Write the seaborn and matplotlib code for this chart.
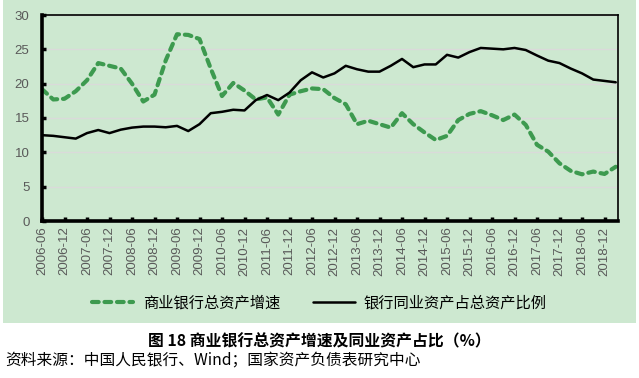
import numpy as np
import pandas as pd
import seaborn as sns
import matplotlib.pyplot as plt
from matplotlib.patches import Rectangle


sns.set_theme(style="white")
plt.rcParams['font.family'] = ['Noto Sans CJK SC', 'DejaVu Sans']


# quarterly, 2006-06 .. 2019-03
quarters = [f"{y}-{m}" for y in range(2006, 2020) for m in ("03", "06", "09", "12")][1:53]

growth = [19.2, 17.7, 17.8, 18.9, 20.5, 23.0, 22.6, 22.2, 20.0, 17.4,
          18.4, 23.4, 27.2, 27.1, 26.5, 22.2, 18.2, 20.1, 19.0, 17.7,
          18.0, 15.5, 18.4, 18.9, 19.3, 19.2, 17.9, 17.0, 14.1, 14.6,
          14.1, 13.6, 15.7, 14.1, 12.9, 11.8, 12.4, 14.7, 15.6, 16.0,
          15.4, 14.7, 15.5, 14.0, 11.1, 10.1, 8.4, 7.3, 6.8, 7.2,
          6.85, 7.9]

interbank = [12.5, 12.4, 12.2, 12.0, 12.8, 13.25, 12.8, 13.3, 13.6, 13.75,
             13.75, 13.65, 13.85, 13.1, 14.1, 15.7, 15.9, 16.2, 16.1, 17.6,
             18.35, 17.6, 18.7, 20.5, 21.65, 20.9, 21.5, 22.6, 22.1, 21.75,
             21.75, 22.6, 23.6, 22.4, 22.8, 22.8, 24.2, 23.8, 24.6, 25.2,
             25.1, 25.0, 25.2, 24.9, 24.1, 23.35, 23.0, 22.2, 21.5, 20.6,
             20.4, 20.2]

label_growth = "商业银行总资产增速"
label_interbank = "银行同业资产占总资产比例"
caption = "图 18 商业银行总资产增速及同业资产占比（%）"
source = "资料来源：中国人民银行、Wind；国家资产负债表研究中心"

df = pd.DataFrame({"idx": np.arange(len(quarters)), "quarter": quarters,
                   "growth": growth, "interbank": interbank})

bg = "#cde8d0"
green = "#3d9a4f"

fig = plt.figure(figsize=(6.39, 3.78), dpi=100)
fig.patch.set_facecolor("white")
fig.patches.append(Rectangle((3 / 639, 1 - 323 / 378), 633 / 639, 323 / 378,
                             transform=fig.transFigure, facecolor=bg,
                             edgecolor="none", zorder=-10))

ax = fig.add_axes([42 / 639, 1 - 221 / 378, 576 / 639, 206 / 378])
ax.set_facecolor(bg)

sns.lineplot(data=df, x="idx", y="growth", ax=ax, color=green, linewidth=3.0,
             linestyle=(0, (1.6, 1.4)), dash_capstyle="round", label=label_growth)
sns.lineplot(data=df, x="idx", y="interbank", ax=ax, color="black", linewidth=1.8,
             label=label_interbank)

ax.set_xlim(0, 51.2)
ax.set_ylim(0, 30)
ax.set_yticks(range(0, 31, 5))
ax.set_xticks(df["idx"][::2])
ax.set_xticklabels(df["quarter"][::2], rotation=90)
ax.set_xlabel("")
ax.set_ylabel("")

for lab in ax.get_xticklabels() + ax.get_yticklabels():
    lab.set_fontfamily("Liberation Sans")
    lab.set_fontsize(9.5)
    lab.set_color("#595959")

ax.tick_params(axis="y", direction="in", length=3, width=2.5, pad=9, color="black", left=True)
ax.tick_params(axis="x", direction="in", length=3, width=2.5, pad=4, color="black", bottom=True)
ax.yaxis.grid(True, color="#dadada", linewidth=1)
ax.set_axisbelow(True)

for side in ("left", "bottom"):
    ax.spines[side].set_linewidth(2.6)
    ax.spines[side].set_color("black")
for side in ("top", "right"):
    ax.spines[side].set_linewidth(1.2)
    ax.spines[side].set_color("black")
    ax.spines[side].set_visible(True)

ax.get_legend().remove()
handles, labels = ax.get_legend_handles_labels()
leg = fig.legend(handles, labels, loc="center", bbox_to_anchor=(0.5, 1 - 303 / 378),
                 ncol=2, frameon=False, fontsize=11, handlelength=2.7,
                 columnspacing=2.2, handletextpad=0.6)
for t in leg.get_texts():
    t.set_color("black")

fig.text(0.5, 1 - 341 / 378, caption, ha="center", va="center",
         fontsize=11.4, fontweight="bold", color="black")
fig.text(5 / 639, 1 - 361 / 378, source, ha="left", va="center",
         fontsize=11.3, color="black")

fig.savefig("out.png", dpi=100, facecolor=fig.get_facecolor())
